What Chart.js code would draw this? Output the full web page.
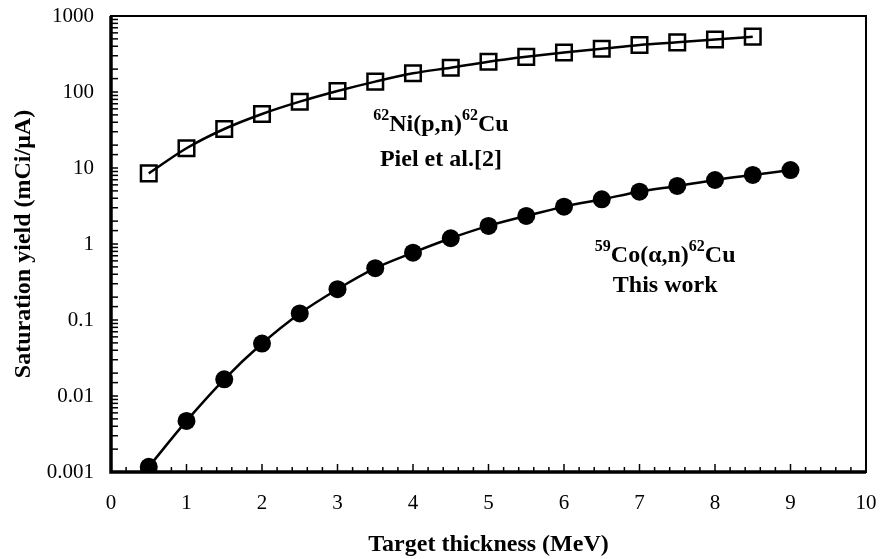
<!DOCTYPE html>
<html>
<head>
<meta charset="utf-8">
<script src="https://cdn.jsdelivr.net/npm/chart.js@4.4.1/dist/chart.umd.min.js"></script>
<style>
  html, body { margin: 0; padding: 0; background: #fff; }
  #wrap { width: 880px; height: 559px; }
</style>
</head>
<body>
<div id="wrap"><canvas id="yieldChart" width="880" height="559"></canvas></div>
<script>
// Data
const thicknessCo = [0.5, 1, 1.5, 2, 2.5, 3, 3.5, 4, 4.5, 5, 5.5, 6, 6.5, 7, 7.5, 8, 8.5, 9];
const yieldCo = [0.00117, 0.0047, 0.0166, 0.049, 0.122, 0.254, 0.48, 0.77, 1.19, 1.73, 2.34, 3.1, 3.87, 4.88, 5.8, 6.95, 8.1, 9.4];
const thicknessNi = [0.5, 1, 1.5, 2, 2.5, 3, 3.5, 4, 4.5, 5, 5.5, 6, 6.5, 7, 7.5, 8, 8.5];
const yieldNi = [8.5, 18.2, 32.6, 51.4, 74.6, 103, 137, 176, 209, 250, 290, 330, 370, 415, 450, 490, 535];

const xTitle = 'Target thickness (MeV)';
const yTitle = 'Saturation yield (mCi/\u03bcA)';

const SERIF = "'Liberation Serif', 'Times New Roman', serif";

function toPoints(xs, ys) {
    return xs.map((x, i) => ({ x: x, y: ys[i] }));
}

// Inward ticks, frame and the two reaction labels
const framePlugin = {
    id: 'frame',
    afterDraw(chart) {
        const { ctx, chartArea: a, scales: { x, y } } = chart;
        ctx.save();
        ctx.strokeStyle = '#000';
        ctx.lineCap = 'butt';

        // x ticks every 0.2 MeV, pointing up into the plot
        ctx.lineWidth = 1.5;
        for (let i = 1; i < 50; i++) {
            const px = x.getPixelForValue(i * 0.2);
            const len = (i % 5 === 0) ? 8 : 5;
            ctx.beginPath();
            ctx.moveTo(px, a.bottom);
            ctx.lineTo(px, a.bottom - len);
            ctx.stroke();
        }
        // y ticks (log decades and 2..9), pointing right
        y.ticks.forEach(t => {
            const py = y.getPixelForValue(t.value);
            ctx.beginPath();
            ctx.moveTo(a.left, py);
            ctx.lineTo(a.left + 7, py);
            ctx.stroke();
        });

        // frame
        ctx.lineWidth = 2;
        ctx.strokeRect(a.left, a.top, a.right - a.left, a.bottom - a.top);
        ctx.lineWidth = 3.5;
        ctx.beginPath();
        ctx.moveTo(a.left, a.top);
        ctx.lineTo(a.left, a.bottom);
        ctx.lineTo(a.right, a.bottom);
        ctx.stroke();

        // labels with superscripts
        drawRichLine(ctx, x.getPixelForValue(4.37), y.getPixelForValue(36.8),
            [['62', true], ['Ni(p,n)', false], ['62', true], ['Cu', false]]);
        drawRichLine(ctx, x.getPixelForValue(4.37), y.getPixelForValue(12.7),
            [['Piel et al.[2]', false]]);
        drawRichLine(ctx, x.getPixelForValue(7.34), y.getPixelForValue(0.70),
            [['59', true], ['Co(\u03b1,n)', false], ['62', true], ['Cu', false]]);
        drawRichLine(ctx, x.getPixelForValue(7.34), y.getPixelForValue(0.28),
            [['This work', false]]);
        ctx.restore();
    }
};

function drawRichLine(ctx, cx, cy, parts) {
    const mainFont = 'bold 24px ' + SERIF;
    const supFont = 'bold 16px ' + SERIF;
    let total = 0;
    parts.forEach(p => {
        ctx.font = p[1] ? supFont : mainFont;
        total += ctx.measureText(p[0]).width;
    });
    let px = cx - total / 2;
    ctx.fillStyle = '#000';
    ctx.textBaseline = 'middle';
    ctx.textAlign = 'left';
    parts.forEach(p => {
        ctx.font = p[1] ? supFont : mainFont;
        ctx.fillText(p[0], px, p[1] ? cy - 9 : cy);
        px += ctx.measureText(p[0]).width;
    });
}

const ctx = document.getElementById('yieldChart').getContext('2d');

new Chart(ctx, {
    type: 'scatter',
    data: {
        datasets: [{
            label: 'Ni',
            data: toPoints(thicknessNi, yieldNi),
            showLine: true,
            borderColor: '#000',
            borderWidth: 2.5,
            backgroundColor: 'rgba(0,0,0,0)',
            pointStyle: 'rect',
            pointRadius: 11,
            pointBorderWidth: 2.5,
            pointBorderColor: '#000',
            pointBackgroundColor: 'rgba(0,0,0,0)',
            cubicInterpolationMode: 'monotone'
        }, {
            label: 'Co',
            data: toPoints(thicknessCo, yieldCo),
            showLine: true,
            borderColor: '#000',
            borderWidth: 2.5,
            pointStyle: 'circle',
            pointRadius: 9,
            pointBorderWidth: 0,
            pointBackgroundColor: '#000',
            cubicInterpolationMode: 'monotone'
        }]
    },
    options: {
        responsive: false,
        animation: false,
        layout: { padding: { left: 0, right: 14, top: 16, bottom: 0 } },
        plugins: {
            legend: { display: false },
            tooltip: { enabled: false }
        },
        scales: {
            x: {
                type: 'linear',
                min: 0,
                max: 10,
                grid: { display: false, drawTicks: false },
                border: { display: false },
                ticks: {
                    stepSize: 1,
                    padding: 19,
                    color: '#000',
                    font: { family: SERIF, size: 21 }
                },
                title: {
                    display: true,
                    text: xTitle,
                    color: '#000',
                    padding: { top: 0, bottom: 0 },
                    font: { family: SERIF, size: 24, weight: 'bold' }
                },
                afterFit: s => {
                    s.height = 87;
                    s.paddingLeft = 0;
                    s.paddingRight = 0;
                }
            },
            y: {
                type: 'logarithmic',
                min: 0.001,
                max: 1000,
                grid: { display: false, drawTicks: false },
                border: { display: false },
                ticks: {
                    autoSkip: false,
                    padding: 17,
                    color: '#000',
                    font: { family: SERIF, size: 21 },
                    callback: function (value) {
                        const l = Math.log10(value);
                        if (Math.abs(l - Math.round(l)) > 1e-6) return '';
                        return String(Number(value.toPrecision(1)));
                    }
                },
                title: {
                    display: true,
                    text: yTitle,
                    color: '#000',
                    padding: { top: 9, bottom: 0 },
                    font: { family: SERIF, size: 24, weight: 'bold' }
                },
                afterFit: s => {
                    s.width = 111;
                    s.paddingTop = 0;
                    s.paddingBottom = 0;
                }
            }
        }
    },
    plugins: [framePlugin]
});
</script>
</body>
</html>
